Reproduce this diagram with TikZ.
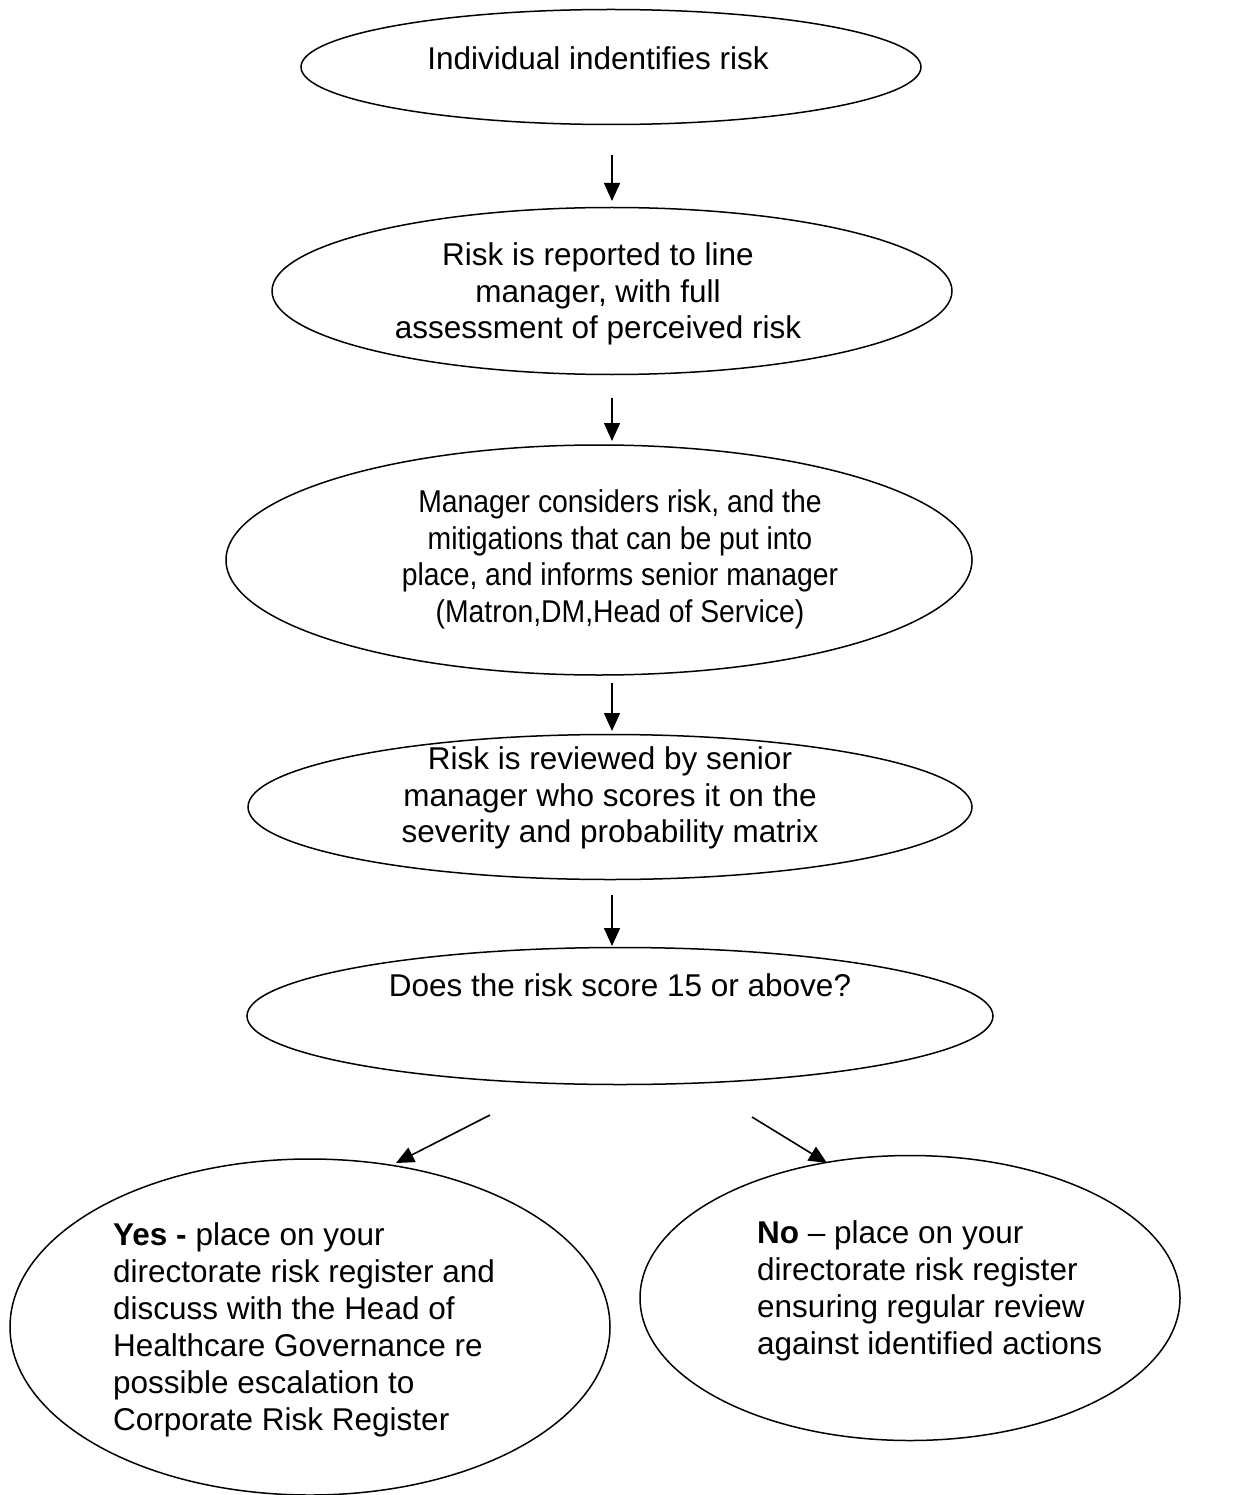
\documentclass[tikz,border=0pt]{standalone}
\usepackage{fontspec}
\setmainfont{Liberation Sans}
\usetikzlibrary{shapes.geometric,arrows.meta}
\tikzset{
  oval/.style={draw, ellipse, line width=1.5pt, inner sep=0pt},
  txt/.style={font=\fontsize{31.5}{36.5}\selectfont, inner sep=0pt},
  sidetxt/.style={font=\fontsize{31.5}{37}\selectfont, inner sep=0pt, align=left, anchor=west},
  arr/.style={line width=1.6pt, -{Triangle[length=18pt,width=16pt]}}
}
% narrowed centred block of lines
\newcommand{\narrowlines}[1]{\scalebox{0.9}[1]{\begin{tabular}{@{}c@{}}#1\end{tabular}}}
\begin{document}
\begin{tikzpicture}[x=1pt,y=-1pt]
\useasboundingbox (0,0) rectangle (1234,1495);
% process ovals
\node[oval, minimum width=620, minimum height=115] (e1) at (611,67) {};
\node[oval, minimum width=680, minimum height=167] (e2) at (612,291) {};
\node[oval, minimum width=746, minimum height=230] (e3) at (599,560) {};
\node[oval, minimum width=724, minimum height=145] (e4) at (610,807) {};
\node[oval, minimum width=746, minimum height=137] (e5) at (620,1016) {};
\node[oval, minimum width=600, minimum height=336] (e6) at (310,1327) {};
\node[oval, minimum width=540, minimum height=285] (e7) at (910,1298) {};
% texts
\node[txt] (t1) at (598,58) {Individual indentifies risk};
\node[txt, align=center] (t2) at (598,294) {Risk is reported to line\\manager, with full\\assessment of perceived risk};
\node[txt] (t3) at (620,560) {\narrowlines{Manager considers risk, and the\\mitigations that can be put into\\place, and informs senior manager\\(Matron,DM,Head of Service)}};
\node[txt, align=center] (t4) at (610,798) {Risk is reviewed by senior\\manager who scores it on the\\severity and probability matrix};
\node[txt] (t5) at (620,985) {Does the risk score 15 or above?};
\node[sidetxt] (t6) at (113,1330) {\textbf{Yes -} place on your\\directorate risk register and\\discuss with the Head of\\Healthcare Governance re\\possible escalation to\\Corporate Risk Register};
\node[sidetxt] (t7) at (757,1291) {\textbf{No} -- place on your\\directorate risk register\\ensuring regular review\\against identified actions};
% connector end points
\coordinate (a1s) at (612,155);  \coordinate (a1e) at (612,201);
\coordinate (a2s) at (612,398);  \coordinate (a2e) at (612,441);
\coordinate (a3s) at (612,683);  \coordinate (a3e) at (612,731);
\coordinate (a4s) at (612,895);  \coordinate (a4e) at (612,946);
\coordinate (a5s) at (490,1115); \coordinate (a5e) at (396,1163);
\coordinate (a6s) at (752,1117); \coordinate (a6e) at (827,1163);
\draw[arr] (a1s) -- (a1e);
\draw[arr] (a2s) -- (a2e);
\draw[arr] (a3s) -- (a3e);
\draw[arr] (a4s) -- (a4e);
\draw[arr] (a5s) -- (a5e);
\draw[arr] (a6s) -- (a6e);
\end{tikzpicture}
\end{document}
